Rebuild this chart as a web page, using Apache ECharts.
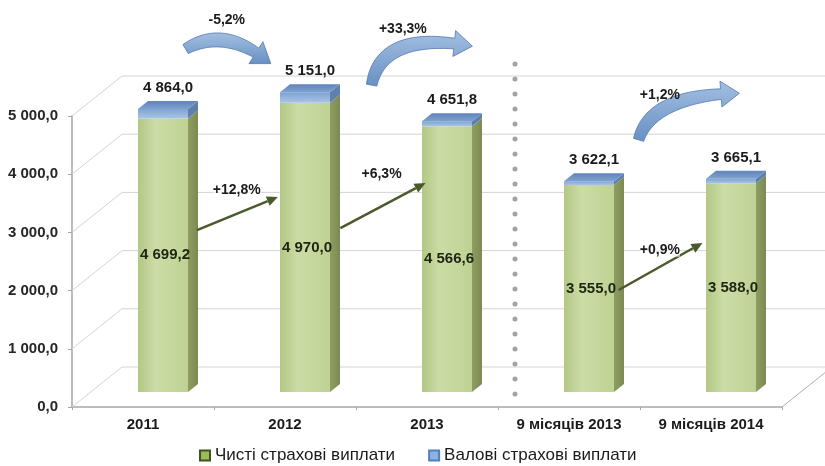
<!DOCTYPE html>
<html>
<head>
<meta charset="utf-8">
<script src="https://cdn.jsdelivr.net/npm/echarts@6/dist/echarts.min.js"></script>
<style>
  html, body { margin: 0; padding: 0; background: #ffffff; }
  #main { width: 825px; height: 466px; }
</style>
</head>
<body>
<div id="main"></div>
<script>
// ---------------- data ----------------
const categories = ['2011', '2012', '2013', '9 місяців 2013', '9 місяців 2014'];
const netPayments = [4699.2, 4970.0, 4566.6, 3555.0, 3588.0];     // Чисті страхові виплати
const grossPayments = [4864.0, 5151.0, 4651.8, 3622.1, 3665.1];   // Валові страхові виплати
const yTicks = [0, 1000, 2000, 3000, 4000, 5000];
const netGrowthLabels = ['+12,8%', '+6,3%', '+0,9%'];
const grossGrowthLabels = ['-5,2%', '+33,3%', '+1,2%'];
const seriesNames = ['Чисті страхові виплати', 'Валові страхові виплати'];

// ---------------- layout (positions in data space: [category position, value]) ----------------
const straightArrowLayout = [
  { from: [0.38, 3040], to: [0.95, 3610], label: [0.66, 3720] },
  { from: [1.39, 3075], to: [1.99, 3850], label: [1.68, 4000] },
  { from: [3.35, 2010], to: [3.94, 2820], label: [3.64, 2700] }
];
const curvedArrowLayout = [
  { p0: [0.30, 6150], c: [0.58, 6560], p1: [0.90, 5900], label: [0.59, 6650] },
  { p0: [1.61, 5530], c: [1.68, 6480], p1: [2.32, 6200], label: [1.83, 6500] },
  { p0: [3.49, 4590], c: [3.58, 5370], p1: [4.20, 5390], label: [3.64, 5360] }
];

const FONT = '"Liberation Sans", Arial, sans-serif';
const DEPTH_X = 50, DEPTH_Y = 40;      // back wall offset
const BAR_DX = 20, BAR_DY = -15;       // bar position inside the depth
const BAR_W = 50, SIDE_X = 10, SIDE_Y = 8;

function fmt(v) {
  const s = v.toFixed(1).split('.');
  return s[0].replace(/\B(?=(\d{3})+(?!\d))/g, ' ') + ',' + s[1];
}

const chart = echarts.init(document.getElementById('main'));

function wallsItem(params, api) {
  const cs = params.coordSys;
  const v = api.value(1);
  const p = api.coord([0, v]);
  const y = p[1];
  const x0 = cs.x, x1 = cs.x + cs.width;
  const gridStyle = { stroke: '#d4d4d4', lineWidth: 1 };
  const children = [
    { type: 'line', shape: { x1: x0, y1: y, x2: x0 + DEPTH_X, y2: y - DEPTH_Y }, style: gridStyle },
    { type: 'line', shape: { x1: x0 + DEPTH_X, y1: y - DEPTH_Y, x2: x1 + DEPTH_X, y2: y - DEPTH_Y }, style: gridStyle }
  ];
  if (v === 0) {
    children.push({ type: 'line', shape: { x1: x1, y1: y, x2: x1 + DEPTH_X, y2: y - DEPTH_Y },
      style: { stroke: '#b0b0b0', lineWidth: 1 } });
    // dotted separator between yearly and 9-month data
    const xa = api.coord([2, 0])[0], xb = api.coord([3, 0])[0];
    const sx = (xa + xb) / 2 + 17;
    children.push({ type: 'line', shape: { x1: sx, y1: cs.y - 52, x2: sx, y2: y },
      style: { stroke: '#a3a3a3', lineWidth: 5, lineDash: [0.1, 14.9], lineCap: 'round' } });
  }
  return { type: 'group', children: children };
}

function barFaces(xL, yTop, yBot, front, side) {
  const xR = xL + BAR_W;
  return [
    { type: 'rect', shape: { x: xL, y: yTop, width: BAR_W, height: yBot - yTop }, style: { fill: front } },
    { type: 'polygon', shape: { points: [[xR, yTop], [xR + SIDE_X, yTop - SIDE_Y], [xR + SIDE_X, yBot - SIDE_Y], [xR, yBot]] },
      style: { fill: side } }
  ];
}

const greenFront = new echarts.graphic.LinearGradient(0, 0, 1, 0, [
  { offset: 0, color: '#b3c785' }, { offset: 0.35, color: '#cbdca6' }, { offset: 1, color: '#bfd294' }]);
const greenSide = new echarts.graphic.LinearGradient(0, 0, 1, 0, [
  { offset: 0, color: '#8e9e62' }, { offset: 1, color: '#7b8a52' }]);
const blueFront = new echarts.graphic.LinearGradient(0, 0, 0, 1, [
  { offset: 0, color: '#7ea3d3' }, { offset: 1, color: '#a9c4e4' }]);
const blueSide = '#5f7fae';
const blueTop = new echarts.graphic.LinearGradient(0, 0, 0, 1, [
  { offset: 0, color: '#5f84b9' }, { offset: 1, color: '#7fa1d0' }]);

function netItem(params, api) {
  const i = api.value(0), v = api.value(1);
  const b = api.coord([i, 0]), t = api.coord([i, v]);
  const xL = b[0] + BAR_DX - BAR_W / 2;
  const yBot = b[1] + BAR_DY, yTop = t[1] + BAR_DY;
  const children = barFaces(xL, yTop, yBot, greenFront, greenSide);
  children.push({ type: 'text', z2: 10, style: { text: fmt(v), x: xL + BAR_W / 2 + 2, y: (yTop + yBot) / 2,
    align: 'center', verticalAlign: 'middle', fill: '#1e2410', font: 'bold 15px ' + FONT } });
  return { type: 'group', children: children };
}

function grossItem(params, api) {
  const i = api.value(0), vNet = api.value(1), vGross = api.value(2);
  const b = api.coord([i, vNet]), t = api.coord([i, vGross]);
  const xL = b[0] + BAR_DX - BAR_W / 2, xR = xL + BAR_W;
  const yBot = b[1] + BAR_DY, yTop = t[1] + BAR_DY;
  const children = barFaces(xL, yTop, yBot, blueFront, blueSide);
  children.push({ type: 'polygon', shape: { points: [[xL, yTop], [xL + SIDE_X, yTop - SIDE_Y], [xR + SIDE_X, yTop - SIDE_Y], [xR, yTop]] },
    style: { fill: blueTop } });
  children.push({ type: 'text', style: { text: fmt(vGross), x: xL + BAR_W / 2 + 5, y: yTop - SIDE_Y - 13,
    align: 'center', verticalAlign: 'middle', fill: '#1a1a1a', font: 'bold 15px ' + FONT } });
  return { type: 'group', children: children };
}

chart.setOption({
  animation: false,
  backgroundColor: '#ffffff',
  grid: { left: 72, right: 43, top: 116, bottom: 59, containLabel: false },
  legend: {
    left: 199, top: 447, itemWidth: 10, itemHeight: 10, itemGap: 33, padding: 0,
    textStyle: { fontFamily: FONT, fontSize: 17, color: '#1a1a1a' },
    data: [
      { name: seriesNames[0], icon: 'rect', itemStyle: { color: '#9bbb59', borderColor: '#3f5220', borderWidth: 2 } },
      { name: seriesNames[1], icon: 'rect', itemStyle: { color: '#8eb2e0', borderColor: '#4f81bd', borderWidth: 2 } }
    ]
  },
  xAxis: {
    type: 'category', data: categories,
    axisLine: { show: true, lineStyle: { color: '#a6a6a6', width: 1.5 } },
    axisTick: { show: true, length: 3, lineStyle: { color: '#a6a6a6' } },
    axisLabel: { margin: 10, fontFamily: FONT, fontWeight: 'bold', fontSize: 15, color: '#1a1a1a' },
    splitLine: { show: false }
  },
  yAxis: {
    type: 'value', min: 0, max: 5000, interval: 1000,
    axisLine: { show: true, lineStyle: { color: '#a6a6a6', width: 1.5 } },
    axisTick: { show: true, length: 4, lineStyle: { color: '#a6a6a6' } },
    axisLabel: { margin: 14, fontFamily: FONT, fontWeight: 'bold', fontSize: 15, color: '#262626', formatter: fmt },
    splitLine: { show: false }
  },
  series: [
    { type: 'custom', name: 'walls', silent: true, z: 1, renderItem: wallsItem,
      data: yTicks.map(v => [0, v]) },
    { type: 'custom', name: seriesNames[0], z: 3, itemStyle: { color: '#9bbb59' }, renderItem: netItem,
      data: categories.map((c, i) => [i, netPayments[i]]) },
    { type: 'custom', name: seriesNames[1], z: 3, itemStyle: { color: '#4f81bd' }, renderItem: grossItem,
      data: categories.map((c, i) => [i, netPayments[i], grossPayments[i]]) }
  ]
});

// ---------------- annotations placed through the chart's scales ----------------
const x0px = chart.convertToPixel({ xAxisIndex: 0 }, 0);
const x1px = chart.convertToPixel({ xAxisIndex: 0 }, 1);
const catW = x1px - x0px;
function P(pt) { return [x0px + pt[0] * catW, chart.convertToPixel({ yAxisIndex: 0 }, pt[1])]; }

function quad(p0, c, p1, t) {
  const u = 1 - t;
  return [u * u * p0[0] + 2 * u * t * c[0] + t * t * p1[0], u * u * p0[1] + 2 * u * t * c[1] + t * t * p1[1]];
}

function curvedArrow(p0, c, p1) {
  const headLen = 18, headHalf = 13;
  let tb = 1;
  for (let t = 1; t > 0; t -= 0.005) {
    const q = quad(p0, c, p1, t);
    if (Math.hypot(q[0] - p1[0], q[1] - p1[1]) >= headLen) { tb = t; break; }
  }
  const left = [], right = [];
  const N = 30;
  let lastN = [0, 0];
  for (let k = 0; k <= N; k++) {
    const t = tb * k / N;
    const a = quad(p0, c, p1, Math.max(0, t - 0.01)), b2 = quad(p0, c, p1, Math.min(1, t + 0.01));
    let dx = b2[0] - a[0], dy = b2[1] - a[1];
    const L = Math.hypot(dx, dy); dx /= L; dy /= L;
    const nx = -dy, ny = dx;
    lastN = [nx, ny];
    const w = 4.5 + 2.5 * Math.sin(Math.PI * k / N * 0.8 + 0.3);
    const q = quad(p0, c, p1, t);
    left.push([q[0] + nx * w, q[1] + ny * w]);
    right.push([q[0] - nx * w, q[1] - ny * w]);
  }
  const base = quad(p0, c, p1, tb);
  const nx = lastN[0], ny = lastN[1];
  const pts = left.concat([
    [base[0] + nx * headHalf, base[1] + ny * headHalf],
    p1,
    [base[0] - nx * headHalf, base[1] - ny * headHalf]
  ]).concat(right.reverse());
  return {
    type: 'polygon', z: 20, shape: { points: pts },
    style: {
      fill: new echarts.graphic.LinearGradient(0, 0, 0, 1, [
        { offset: 0, color: '#a3bfe2' }, { offset: 1, color: '#6890c3' }]),
      stroke: '#5479ab', lineWidth: 0.8
    }
  };
}

function straightArrow(a, b) {
  const dx = b[0] - a[0], dy = b[1] - a[1];
  const L = Math.hypot(dx, dy), ux = dx / L, uy = dy / L;
  const hl = 11, hw = 5;
  const base = [b[0] - ux * hl, b[1] - uy * hl];
  return [
    { type: 'line', z: 20, shape: { x1: a[0], y1: a[1], x2: base[0], y2: base[1] },
      style: { stroke: '#4b5a2c', lineWidth: 2.5 } },
    { type: 'polygon', z: 20, shape: { points: [b, [base[0] - uy * hw, base[1] + ux * hw], [base[0] + uy * hw, base[1] - ux * hw]] },
      style: { fill: '#4b5a2c' } }
  ];
}

const graphics = [];
straightArrowLayout.forEach((s, k) => {
  straightArrow(P(s.from), P(s.to)).forEach(g => graphics.push(g));
  const lp = P(s.label);
  graphics.push({ type: 'text', z: 21, x: lp[0], y: lp[1],
    style: { text: netGrowthLabels[k], align: 'center', verticalAlign: 'middle', fill: '#1a1a1a',
      font: 'bold 14px ' + FONT, backgroundColor: 'rgba(255,255,255,0.6)' } });
});
curvedArrowLayout.forEach((s, k) => {
  graphics.push(curvedArrow(P(s.p0), P(s.c), P(s.p1)));
  const lp = P(s.label);
  graphics.push({ type: 'text', z: 21, x: lp[0], y: lp[1],
    style: { text: grossGrowthLabels[k], align: 'center', verticalAlign: 'middle', fill: '#1a1a1a',
      font: 'bold 14px ' + FONT } });
});
chart.setOption({ graphic: graphics });
</script>
</body>
</html>
